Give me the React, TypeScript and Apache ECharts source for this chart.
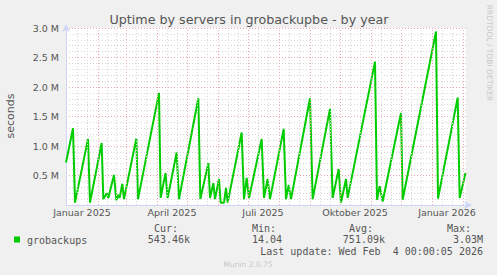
import React, { useEffect, useRef } from 'react';
import * as echarts from 'echarts';

const chartTitle = 'Uptime by servers in grobackupbe - by year';
const yAxisName = 'seconds';
const seriesName = 'grobackups';

const sampleTimes = [
  '2024-12-31 00:00', '2025-01-07 00:00', '2025-01-09 00:00', '2025-01-22 00:00', '2025-01-24 00:00',
  '2025-02-04 16:00', '2025-02-06 08:00', '2025-02-09 16:00', '2025-02-11 08:00', '2025-02-17 00:00',
  '2025-02-19 08:00', '2025-02-21 00:00', '2025-02-22 16:00', '2025-02-25 08:00', '2025-02-27 00:00',
  '2025-03-11 08:00', '2025-03-13 00:00', '2025-04-03 00:00', '2025-04-04 16:00', '2025-04-09 12:00',
  '2025-04-11 16:00', '2025-04-20 16:00', '2025-04-23 00:00', '2025-05-12 08:00', '2025-05-14 08:00',
  '2025-05-22 08:00', '2025-05-24 00:00', '2025-05-27 08:00', '2025-05-29 00:00', '2025-06-02 00:00',
  '2025-06-03 16:00', '2025-06-07 00:00', '2025-06-09 00:00', '2025-06-10 16:00', '2025-06-24 16:00',
  '2025-06-27 00:00', '2025-06-29 16:00', '2025-07-02 00:00', '2025-07-14 16:00', '2025-07-17 00:00',
  '2025-07-20 16:00', '2025-07-23 00:00', '2025-08-05 16:00', '2025-08-08 00:00', '2025-08-10 16:00',
  '2025-08-13 00:00', '2025-09-01 00:00', '2025-09-03 16:00', '2025-09-21 00:00', '2025-09-23 16:00',
  '2025-09-29 16:00', '2025-10-02 00:00', '2025-10-07 00:00', '2025-10-08 16:00', '2025-11-05 00:00',
  '2025-11-07 00:00', '2025-11-09 16:00', '2025-11-12 16:00', '2025-12-01 00:00', '2025-12-02 16:00',
  '2026-01-05 00:00', '2026-01-07 00:00', '2026-01-26 16:00', '2026-01-28 16:00', '2026-02-03 12:00',
];

const uptimeSeconds = [
  720000, 1300000, 40000, 1120000, 40000,
  1050000, 100000, 200000, 120000, 510000,
  80000, 170000, 120000, 360000, 100000,
  1130000, 100000, 1900000, 120000, 540000,
  120000, 890000, 100000, 1810000, 100000,
  710000, 120000, 370000, 100000, 440000,
  40000, 40000, 290000, 40000, 1230000,
  100000, 460000, 120000, 1120000, 120000,
  440000, 100000, 1290000, 100000, 340000,
  100000, 1810000, 100000, 1630000, 120000,
  610000, 40000, 440000, 120000, 2430000,
  90000, 320000, 60000, 1560000, 90000,
  2940000, 110000, 1820000, 120000, 543460,
];

const xStart = '2024-12-31 00:00';
const xEnd = '2026-02-04 00:00';
const xTickDates = ['2025-01-16 00:00', '2025-04-16 00:00', '2025-07-16 00:00', '2025-10-16 00:00', '2026-01-16 00:00'];
const xTickLabels = ['Januar 2025', 'April 2025', 'Juli 2025', 'Oktober 2025', 'Januar 2026'];
const yMax = 3000000;
const yStep = 500000;

const legendHeaders = ['Cur:', 'Min:', 'Avg:', 'Max:'];
const legendValues = ['543.46k', '14.04', '751.09k', '3.03M'];
const lastUpdate = 'Last update: Wed Feb  4 00:00:05 2026';
const versionText = 'Munin 2.0.75';
const watermark = 'RRDTOOL / TOBI OETIKER';

function toTime(s: string): number {
  const [d, t] = s.split(' ');
  const [y, m, day] = d.split('-').map(Number);
  const [hh, mm] = (t || '00:00').split(':').map(Number);
  return new Date(y, m - 1, day, hh, mm).getTime();
}

const SANS = '"DejaVu Sans", sans-serif';
const MONO = '"DejaVu Sans Mono", monospace';
const TEXT = '#555555';
const MAJOR = '#eaa8a8';
const MINOR = '#d6d6d6';

export default function App() {
  const ref = useRef<HTMLDivElement>(null);
  useEffect(() => {
    if (!ref.current) return;
    const chart = echarts.init(ref.current, undefined, { renderer: 'svg' });
    const tStart = toTime(xStart);
    const tEnd = toTime(xEnd);
    const tickTimes = xTickDates.map(toTime);

    // vertical grid: month starts (major) and thirds of months (minor)
    const vLines: any[] = [];
    for (let y = 2025, m = 0; y < 2027; m++) {
      if (m > 11) { m = 0; y++; }
      const a = new Date(y, m, 1).getTime();
      const b = new Date(y, m + 1, 1).getTime();
      if (a > tEnd) break;
      if (a > tStart + 86400000) vLines.push({ xAxis: a, lineStyle: { color: MAJOR, type: [1, 2], width: 1 } });
      for (let k = 1; k <= 2; k++) {
        const t = a + ((b - a) * k) / 3;
        if (t < tEnd) vLines.push({ xAxis: t, lineStyle: { color: MINOR, type: [1, 2], width: 1 } });
      }
    }

    const points = sampleTimes.map((s, i) => [toTime(s), uptimeSeconds[i]]);

    const headerX = [154, 252, 349, 447];
    const valueRight = [190, 282, 385, 483];

    chart.setOption({
      animation: false,
      backgroundColor: '#f0f0f0',
      grid: {
        left: 66, right: 31, top: 28, bottom: 70,
        show: true, backgroundColor: '#ffffff', borderWidth: 0,
      },
      xAxis: {
        type: 'value',
        min: tStart,
        max: tEnd,
        axisLine: {
          show: true,
          lineStyle: { color: '#cfd6f8', width: 1 },
          symbol: ['none', 'arrow'],
          symbolSize: [6, 8],
          symbolOffset: [0, 6],
        },
        axisTick: { show: false },
        splitLine: { show: false },
        axisLabel: {
          customValues: tickTimes,
          formatter: (v: number) => {
            let best = 0;
            for (let i = 1; i < tickTimes.length; i++) {
              if (Math.abs(tickTimes[i] - v) < Math.abs(tickTimes[best] - v)) best = i;
            }
            return xTickLabels[best];
          },
          color: TEXT,
          fontFamily: SANS,
          fontSize: 9.5,
          margin: 2,
          hideOverlap: false,
        },
      },
      yAxis: {
        type: 'value',
        min: 0,
        max: yMax,
        interval: yStep,
        axisLine: {
          show: true,
          lineStyle: { color: '#cfd6f8', width: 1 },
          symbol: ['none', 'arrow'],
          symbolSize: [6, 8],
          symbolOffset: [0, 4],
        },
        axisTick: { show: false },
        axisLabel: {
          formatter: (v: number) => (v === 0 ? '' : (v / 1e6).toFixed(1) + ' M'),
          color: TEXT,
          fontFamily: SANS,
          fontSize: 9.5,
          margin: 7,
        },
        splitLine: { show: true, lineStyle: { color: MAJOR, type: [1, 2], width: 1 } },
        minorTick: { show: false, splitNumber: 5 },
        minorSplitLine: { show: true, lineStyle: { color: MINOR, type: [1, 2], width: 1 } },
      },
      series: [
        {
          name: 'grid',
          type: 'line',
          data: points,
          showSymbol: false,
          silent: true,
          z: 1,
          lineStyle: { opacity: 0 },
          markLine: {
            silent: true,
            symbol: ['none', 'none'],
            label: { show: false },
            animation: false,
            data: vLines,
          },
        },
        {
          name: seriesName,
          type: 'line',
          data: points,
          showSymbol: false,
          z: 3,
          lineStyle: { color: '#00cc00', width: 2 },
          itemStyle: { color: '#00cc00' },
        },
      ],
      graphic: [
        {
          type: 'text', x: 249, y: 19,
          style: { text: chartTitle, font: `12.7px ${SANS}`, fill: TEXT, align: 'center', verticalAlign: 'middle' },
        },
        {
          type: 'text', x: 10, y: 116, rotation: Math.PI / 2,
          style: { text: yAxisName, font: `11px ${SANS}`, fill: TEXT, align: 'center', verticalAlign: 'middle' },
        },
        {
          type: 'text', x: 489, y: 53, rotation: -Math.PI / 2,
          style: { text: watermark, font: `7.5px ${SANS}`, fill: '#c8c8c8', align: 'center', verticalAlign: 'middle' },
        },
        { type: 'rect', shape: { x: 14, y: 236.5, width: 6, height: 6 }, style: { fill: '#00cc00' } },
        {
          type: 'text', x: 27, y: 240,
          style: { text: seriesName, font: `10px ${MONO}`, fill: TEXT, align: 'left', verticalAlign: 'middle' },
        },
        ...legendHeaders.map((h, i) => ({
          type: 'text', x: headerX[i], y: 228,
          style: { text: h, font: `10px ${MONO}`, fill: TEXT, align: 'left', verticalAlign: 'middle' },
        })),
        ...legendValues.map((v, i) => ({
          type: 'text', x: valueRight[i], y: 239.5,
          style: { text: v, font: `10px ${MONO}`, fill: TEXT, align: 'right', verticalAlign: 'middle' },
        })),
        {
          type: 'text', x: 483, y: 251,
          style: { text: lastUpdate, font: `10px ${MONO}`, fill: TEXT, align: 'right', verticalAlign: 'middle' },
        },
        {
          type: 'text', x: 248, y: 264,
          style: { text: versionText, font: `7.5px ${SANS}`, fill: '#c8c8c8', align: 'center', verticalAlign: 'middle' },
        },
      ],
    });
    return () => chart.dispose();
  }, []);
  return (
    <div
      ref={ref}
      style={{ position: 'fixed', left: 0, top: 0, width: 497, height: 275, background: '#f0f0f0' }}
    />
  );
}
